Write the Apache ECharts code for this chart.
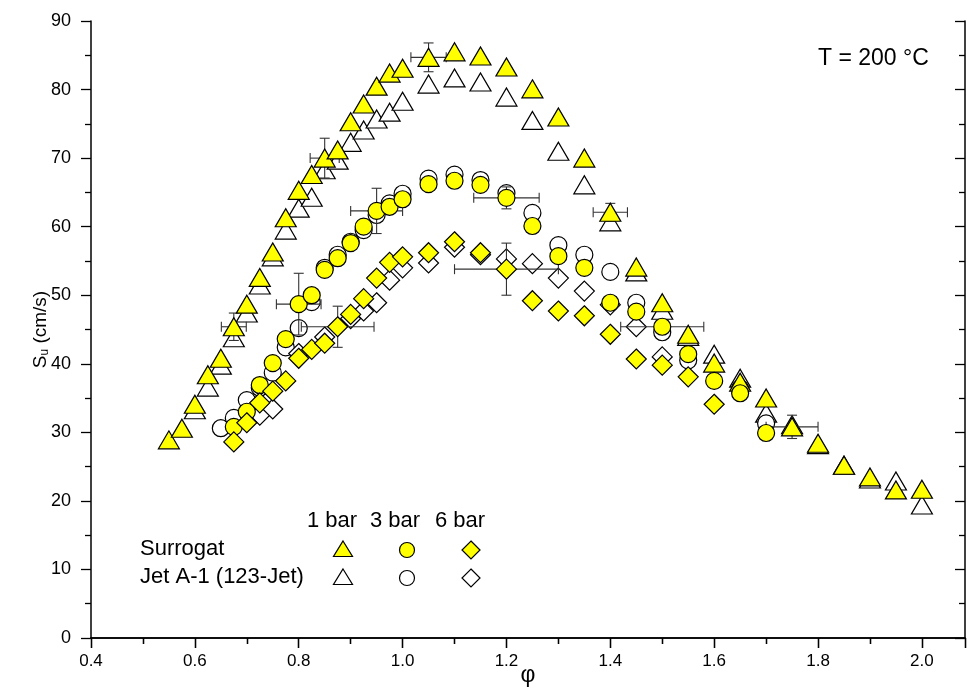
<!DOCTYPE html>
<html>
<head>
<meta charset="utf-8">
<script src="https://cdn.jsdelivr.net/npm/echarts@6/dist/echarts.min.js"></script>
<style>
  html, body { margin: 0; padding: 0; background: #fff; }
  #chart { width: 967px; height: 689px; }
</style>
</head>
<body>
<div id="chart"></div>
<script>
// Laminar burning velocity S_u over equivalence ratio φ at T = 200 °C
// Each point: [φ, S_u in cm/s]

const surrogat1bar = [
  [0.55, 28.9], [0.575, 30.6], [0.60, 34.1], [0.625, 38.4], [0.65, 40.8], [0.675, 45.4],
  [0.70, 48.7], [0.725, 52.6], [0.75, 56.3], [0.775, 61.3], [0.80, 65.3], [0.825, 67.6],
  [0.85, 70.0], [0.875, 71.2], [0.90, 75.3], [0.925, 77.9], [0.95, 80.5], [0.975, 82.4],
  [1.00, 83.1], [1.05, 84.7], [1.10, 85.5], [1.15, 84.9], [1.20, 83.3], [1.25, 80.1],
  [1.30, 76.0], [1.35, 70.0], [1.40, 62.1], [1.45, 54.1], [1.50, 48.9], [1.55, 44.3],
  [1.60, 40.1], [1.65, 37.3], [1.70, 35.0], [1.75, 30.8], [1.80, 28.4], [1.85, 25.2],
  [1.90, 23.5], [1.95, 21.6], [2.00, 21.7]
];

const surrogat3bar = [
  [0.675, 30.8], [0.70, 33.0], [0.725, 36.9], [0.75, 40.1], [0.775, 43.6], [0.80, 48.7],
  [0.825, 50.0], [0.85, 53.7], [0.875, 55.4], [0.90, 57.6], [0.925, 60.0], [0.95, 62.3],
  [0.975, 62.9], [1.00, 64.0], [1.05, 66.2], [1.10, 66.7], [1.15, 66.1], [1.20, 64.2],
  [1.25, 60.1], [1.30, 55.7], [1.35, 54.0], [1.40, 48.9], [1.45, 47.6], [1.50, 45.4],
  [1.55, 41.4], [1.60, 37.5], [1.65, 35.7], [1.70, 29.9]
];

const surrogat6bar = [
  [0.675, 28.6], [0.70, 31.4], [0.725, 34.3], [0.75, 36.0], [0.775, 37.5], [0.80, 40.8],
  [0.825, 42.1], [0.85, 43.0], [0.875, 45.4], [0.90, 47.2], [0.925, 49.5], [0.95, 52.5],
  [0.975, 54.8], [1.00, 55.6], [1.05, 56.2], [1.10, 57.8], [1.15, 56.2], [1.20, 53.8],
  [1.25, 49.2], [1.30, 47.7], [1.35, 47.0], [1.40, 44.3], [1.45, 40.7], [1.50, 39.8],
  [1.55, 38.1], [1.60, 34.1]
];

const jet1bar = [
  [0.60, 33.3], [0.625, 36.6], [0.65, 39.8], [0.675, 43.8], [0.70, 47.4], [0.725, 51.5],
  [0.75, 55.6], [0.775, 59.5], [0.80, 62.7], [0.825, 64.3], [0.85, 68.3], [0.875, 69.7],
  [0.90, 72.3], [0.925, 74.1], [0.95, 75.7], [0.975, 76.7], [1.00, 78.3], [1.05, 80.8],
  [1.10, 81.7], [1.15, 81.1], [1.20, 78.9], [1.25, 75.5], [1.30, 71.0], [1.35, 66.1],
  [1.40, 60.7], [1.45, 53.4], [1.50, 47.8], [1.55, 44.0], [1.60, 41.4], [1.65, 37.9],
  [1.70, 32.8], [1.75, 31.1], [1.80, 28.2], [1.85, 25.2], [1.90, 23.2], [1.95, 22.9],
  [2.00, 19.4]
];

const jet3bar = [
  [0.65, 30.6], [0.675, 32.1], [0.70, 34.7], [0.725, 36.5], [0.75, 38.7], [0.775, 42.4],
  [0.80, 45.2], [0.825, 49.0], [0.85, 54.0], [0.875, 55.9], [0.90, 57.8], [0.925, 59.5],
  [0.95, 61.7], [0.975, 63.4], [1.00, 64.8], [1.05, 67.0], [1.10, 67.6], [1.15, 66.8],
  [1.20, 64.9], [1.25, 62.0], [1.30, 57.3], [1.35, 55.9], [1.40, 53.4], [1.45, 48.9],
  [1.50, 44.6], [1.55, 40.5], [1.65, 36.4], [1.70, 31.3]
];

const jet6bar = [
  [0.725, 32.5], [0.75, 33.4], [0.80, 41.5], [0.85, 43.9], [0.90, 46.6], [0.925, 47.7],
  [0.95, 48.9], [0.975, 52.2], [1.00, 54.0], [1.05, 54.7], [1.10, 57.0], [1.15, 55.9],
  [1.20, 55.3], [1.25, 54.6], [1.30, 52.5], [1.35, 50.6], [1.40, 48.6], [1.45, 45.4],
  [1.50, 41.0]
];

// Error bars: [φ, S_u, ±Δφ, ±ΔS_u]
const errorBars = [
  [0.675, 45.4, 0.024, 2.0],
  [0.85, 70.0, 0.028, 2.9],
  [1.05, 84.7, 0.034, 2.1],
  [1.40, 62.1, 0.033, 1.3],
  [1.75, 30.8, 0.05, 1.7],
  [0.80, 48.7, 0.043, 4.5],
  [0.95, 62.3, 0.05, 3.3],
  [1.20, 64.2, 0.063, 1.6],
  [0.875, 45.4, 0.07, 3.0],
  [1.20, 53.8, 0.10, 3.8],
  [1.50, 45.4, 0.08, 0]
];

const xTicks = { min: 0.4, max: 2.083, interval: 0.2 };
const yTicks = { min: 0, max: 90, interval: 10 };

const pressureHeaders = ['1 bar', '3 bar', '6 bar'];
const fuelNames = ['Surrogat', 'Jet A-1 (123-Jet)'];
const conditionText = 'T = 200 °C';

const FONT = '"Liberation Sans", Arial, sans-serif';
const YELLOW = '#ffff00';

const chart = echarts.init(document.getElementById('chart'), null, { renderer: 'canvas' });

function markerSeries(name, data, symbol, size, fill, z) {
  return {
    name: name,
    type: 'scatter',
    data: data,
    symbol: symbol,
    symbolSize: size,
    z: z,
    itemStyle: { color: fill, borderColor: '#000', borderWidth: 1.2, opacity: 1 },
    emphasis: { disabled: true },
    silent: true
  };
}

function renderErrorBar(params, api) {
  const x = api.value(0), y = api.value(1), dx = api.value(2), dy = api.value(3);
  const style = { stroke: '#333', lineWidth: 1.1, fill: null };
  const cap = 5;
  const children = [];
  if (dx > 0) {
    const l = api.coord([x - dx, y]);
    const r = api.coord([x + dx, y]);
    children.push({ type: 'line', shape: { x1: l[0], y1: l[1], x2: r[0], y2: r[1] }, style: style });
    children.push({ type: 'line', shape: { x1: l[0], y1: l[1] - cap, x2: l[0], y2: l[1] + cap }, style: style });
    children.push({ type: 'line', shape: { x1: r[0], y1: r[1] - cap, x2: r[0], y2: r[1] + cap }, style: style });
  }
  if (dy > 0) {
    const t = api.coord([x, y + dy]);
    const b = api.coord([x, y - dy]);
    children.push({ type: 'line', shape: { x1: t[0], y1: t[1], x2: b[0], y2: b[1] }, style: style });
    children.push({ type: 'line', shape: { x1: t[0] - cap, y1: t[1], x2: t[0] + cap, y2: t[1] }, style: style });
    children.push({ type: 'line', shape: { x1: b[0] - cap, y1: b[1], x2: b[0] + cap, y2: b[1] }, style: style });
  }
  return { type: 'group', children: children };
}

const axisLine = { show: true, lineStyle: { color: '#000', width: 1.5 } };

// Legend table drawn as graphic elements
const headerLefts = [307, 370, 435];
const legendCols = [343, 407, 471];
const legendRows = [550, 578];
const headerY = 522;
const legendGraphics = [];
pressureHeaders.forEach((h, i) => {
  legendGraphics.push({
    type: 'text', left: headerLefts[i], top: headerY - 12,
    style: { text: h, font: '22px ' + FONT, fill: '#000' }
  });
});
fuelNames.forEach((n, j) => {
  legendGraphics.push({
    type: 'text', left: 140, top: legendRows[j] - 12,
    style: { text: n, font: '22px ' + FONT, fill: '#000' }
  });
  const fill = j === 0 ? YELLOW : '#fff';
  const cx0 = legendCols[0], cy = legendRows[j];
  legendGraphics.push({
    type: 'polygon',
    shape: { points: [[cx0, cy - 9], [cx0 + 9.5, cy + 6.5], [cx0 - 9.5, cy + 6.5]] },
    style: { fill: fill, stroke: '#000', lineWidth: 1.2 }
  });
  legendGraphics.push({
    type: 'circle',
    shape: { cx: legendCols[1], cy: cy, r: 7.5 },
    style: { fill: fill, stroke: '#000', lineWidth: 1.2 }
  });
  const dx = legendCols[2];
  legendGraphics.push({
    type: 'polygon',
    shape: { points: [[dx, cy - 9], [dx + 9, cy], [dx, cy + 9], [dx - 9, cy]] },
    style: { fill: fill, stroke: '#000', lineWidth: 1.2 }
  });
});
legendGraphics.push({
  type: 'text', left: 818, top: 47,
  style: { text: conditionText, font: '23px ' + FONT, fill: '#000' }
});

const option = {
  backgroundColor: '#fff',
  animation: false,
  grid: { left: 91, right: 2, top: 21, bottom: 51, containLabel: false, outerBoundsMode: 'none' },
  xAxis: [
    {
      type: 'value', min: xTicks.min, max: xTicks.max, interval: xTicks.interval,
      position: 'bottom',
      name: 'φ', nameLocation: 'middle', nameGap: 26, nameMoveOverlap: false,
      nameTextStyle: { fontFamily: FONT, fontSize: 23, color: '#000' },
      axisLine: axisLine,
      axisTick: { show: true, inside: false, length: 10, lineStyle: { color: '#000', width: 1.3 } },
      minorTick: { show: true, splitNumber: 2, length: 6, lineStyle: { color: '#000', width: 1.3 } },
      axisLabel: {
        show: true, showMaxLabel: false, margin: 15, fontFamily: FONT, fontSize: 17, color: '#000',
        formatter: v => v.toFixed(1)
      },
      splitLine: { show: false }
    },
    {
      type: 'value', min: xTicks.min, max: xTicks.max, interval: xTicks.interval,
      position: 'top',
      axisLine: axisLine,
      axisTick: { show: true, inside: true, length: 10, lineStyle: { color: '#000', width: 1.3 } },
      minorTick: { show: true, splitNumber: 2, length: 6, lineStyle: { color: '#000', width: 1.3 } },
      axisLabel: { show: false },
      splitLine: { show: false }
    }
  ],
  yAxis: [
    {
      type: 'value', min: yTicks.min, max: yTicks.max, interval: yTicks.interval,
      position: 'left',
      name: '{s|S}{u|u}{s| (cm/s)}', nameLocation: 'middle', nameGap: 40, nameRotate: 90,
      nameMoveOverlap: false,
      nameTextStyle: {
        rich: {
          s: { fontFamily: FONT, fontSize: 19, color: '#000' },
          u: { fontFamily: FONT, fontSize: 12, color: '#000', verticalAlign: 'bottom', padding: [9, 0, 0, 0] }
        }
      },
      axisLine: axisLine,
      axisTick: { show: true, inside: false, length: 10, lineStyle: { color: '#000', width: 1.3 } },
      minorTick: { show: true, splitNumber: 2, length: 6, lineStyle: { color: '#000', width: 1.3 } },
      axisLabel: { show: true, margin: 20, fontFamily: FONT, fontSize: 18, color: '#000' },
      splitLine: { show: false }
    },
    {
      type: 'value', min: yTicks.min, max: yTicks.max, interval: yTicks.interval,
      position: 'right',
      axisLine: axisLine,
      axisTick: { show: true, inside: true, length: 10, lineStyle: { color: '#000', width: 1.3 } },
      minorTick: { show: true, splitNumber: 2, length: 6, lineStyle: { color: '#000', width: 1.3 } },
      axisLabel: { show: false },
      splitLine: { show: false }
    }
  ],
  graphic: legendGraphics,
  series: [
    markerSeries('Jet A-1 1 bar', jet1bar, 'triangle', [21, 18], '#fff', 2),
    markerSeries('Jet A-1 3 bar', jet3bar, 'circle', 17, '#fff', 2),
    markerSeries('Jet A-1 6 bar', jet6bar, 'diamond', [20, 20], '#fff', 2),
    {
      name: 'error bars', type: 'custom', data: errorBars, z: 3, silent: true,
      renderItem: renderErrorBar, clip: false
    },
    markerSeries('Surrogat 1 bar', surrogat1bar, 'triangle', [21, 18], YELLOW, 4),
    markerSeries('Surrogat 3 bar', surrogat3bar, 'circle', 17, YELLOW, 4),
    markerSeries('Surrogat 6 bar', surrogat6bar, 'diamond', [20, 20], YELLOW, 4)
  ]
};

chart.setOption(option);
</script>
</body>
</html>
